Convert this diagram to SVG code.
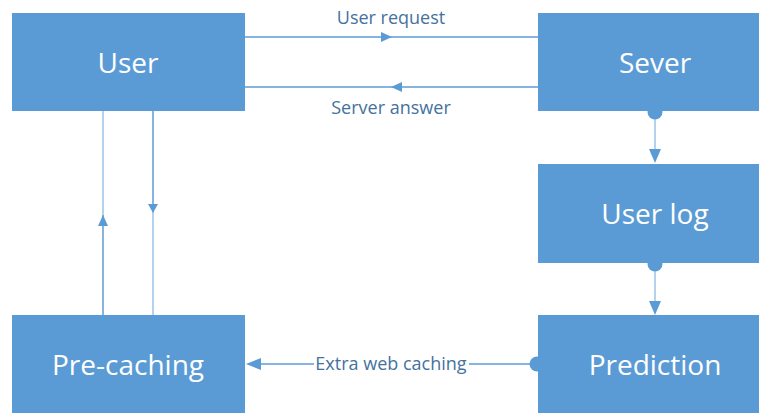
<svg xmlns="http://www.w3.org/2000/svg" width="759" height="413" viewBox="0 0 759 413">
  <defs>
    <style>
      .box { fill: #5B9BD5; }
      .lbl { fill: #ffffff; font-family: "Open Sans", "Noto Sans", sans-serif; font-size: 28px; text-anchor: middle; dominant-baseline: central; }
      .edge { stroke: #5B9BD5; stroke-width: 1.5; fill: none; }
      .faint { stroke: #9DC3E6; stroke-width: 1.5; fill: none; }
      .head { fill: #5B9BD5; }
      .elbl { fill: #44729E; font-family: "Open Sans", "Noto Sans", sans-serif; font-size: 18px; text-anchor: middle; dominant-baseline: central; }
    </style>
  </defs>

  <rect width="759" height="413" fill="#ffffff"/>

  <g id="connectors">
    <!-- User request -->
    <line class="edge" x1="245" y1="37" x2="538" y2="37"/>
    <polygon class="head" points="392,37 381,32 381,42"/>
    <text class="elbl" x="391" y="17">User request</text>

    <!-- Server answer -->
    <line class="edge" x1="245" y1="87" x2="538" y2="87"/>
    <polygon class="head" points="391,87 402,82 402,92"/>
    <text class="elbl" x="391" y="107">Server answer</text>

    <!-- Pre-caching up to User -->
    <line class="faint" x1="103" y1="111" x2="103" y2="215"/>
    <line class="edge" x1="103" y1="215" x2="103" y2="315"/>
    <polygon class="head" points="103,215 98,226 108,226"/>

    <!-- User down to Pre-caching -->
    <line class="edge" x1="153" y1="111" x2="153" y2="212"/>
    <line class="faint" x1="153" y1="212" x2="153" y2="315"/>
    <polygon class="head" points="153,213 148,204 158,204"/>

    <!-- Sever to User log -->
    <line class="faint" x1="655" y1="113" x2="655" y2="150"/>
    <circle class="head" cx="655" cy="112" r="7.5"/>
    <polygon class="head" points="655,163 649,149 661,149"/>

    <!-- User log to Prediction -->
    <line class="faint" x1="655" y1="264" x2="655" y2="301"/>
    <circle class="head" cx="655" cy="264" r="7.5"/>
    <polygon class="head" points="655,315 649,301 661,301"/>

    <!-- Prediction to Pre-caching -->
    <line class="edge" x1="258" y1="364" x2="314" y2="364"/>
    <line class="edge" x1="469" y1="364" x2="537" y2="364"/>
    <circle class="head" cx="537" cy="364" r="7.5"/>
    <polygon class="head" points="246,364 261,358 261,370"/>
    <text class="elbl" x="391" y="363">Extra web caching</text>
  </g>

  <g id="user">
    <rect class="box" x="12" y="13" width="233" height="98"/>
    <text class="lbl" x="128" y="62">User</text>
  </g>
  <g id="sever">
    <rect class="box" x="538" y="13" width="221" height="98"/>
    <text class="lbl" x="655" y="62">Sever</text>
  </g>
  <g id="user-log">
    <rect class="box" x="538" y="164" width="221" height="99"/>
    <text class="lbl" x="655" y="213">User log</text>
  </g>
  <g id="prediction">
    <rect class="box" x="538" y="315" width="221" height="98"/>
    <text class="lbl" x="655" y="364">Prediction</text>
  </g>
  <g id="pre-caching">
    <rect class="box" x="12" y="315" width="233" height="98"/>
    <text class="lbl" x="128" y="364">Pre-caching</text>
  </g>
</svg>
